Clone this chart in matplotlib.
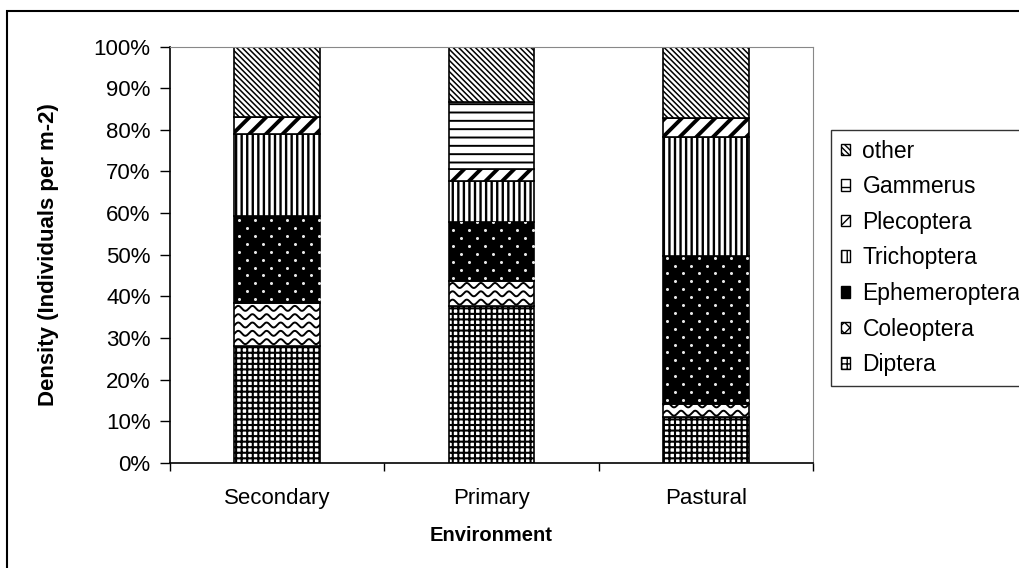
import numpy as np
import matplotlib
matplotlib.use("Agg")
import matplotlib.pyplot as plt
from matplotlib.patches import Patch, Rectangle

plt.rcParams['font.family'] = ['Liberation Sans', 'DejaVu Sans']

# values (percent of total density)
environments = ["Secondary", "Primary", "Pastural"]
taxa = ["Diptera", "Coleoptera", "Ephemeroptera", "Trichoptera",
        "Plecoptera", "Gammerus", "other"]
diptera = [28.1, 37.6, 10.9]
coleoptera = [10.3, 6.0, 3.3]
ephemeroptera = [20.8, 14.3, 35.4]
trichoptera = [19.7, 9.9, 28.6]
plecoptera = [4.3, 2.7, 4.7]
gammerus = [0.0, 16.3, 0.0]
other = [16.8, 13.2, 17.1]
series = [diptera, coleoptera, ephemeroptera, trichoptera, plecoptera, gammerus, other]

hatches = {"Diptera": "+++", "Coleoptera": None, "Ephemeroptera": None,
           "Trichoptera": "|||", "Plecoptera": "//", "Gammerus": "--",
           "other": "\\\\\\\\\\\\"}
hatch_lw = {"Diptera": 1.5, "Coleoptera": 1.0, "Ephemeroptera": 1.0,
            "Trichoptera": 1.7, "Plecoptera": 2.8, "Gammerus": 1.4,
            "other": 1.1}

FS = 16

fig = plt.figure(figsize=(10.2, 5.68), dpi=100)
ax = fig.add_axes([170 / 1020, 1 - 462.7 / 568, 643 / 1020, 416 / 568])

x = np.arange(len(environments))
width = 0.4
bottom = np.zeros(len(environments))

for name, vals in zip(taxa, series):
    vals = np.array(vals)
    with plt.rc_context({'hatch.linewidth': hatch_lw[name]}):
        if name == "Ephemeroptera":
            bars = ax.bar(x, vals, width, bottom=bottom, color='black',
                          edgecolor='black', linewidth=1.2)
            # sparse white dots, staggered rows
            for xi, b, v, rect in zip(x, bottom, vals, bars):
                if v <= 0:
                    continue
                ys = np.arange(b + 0.9, b + v, 1.9)
                for k, yy in enumerate(ys):
                    off = 0.0 if k % 2 == 0 else 0.0373
                    xs = np.arange(xi - width / 2 + 0.02 + off, xi + width / 2, 0.0746)
                    pts, = ax.plot(xs, np.full(len(xs), yy), 'o', color='#e8e8e8',
                                   markersize=2.2, markeredgewidth=0)
                    pts.set_clip_path(rect)
        elif name == "Coleoptera":
            bars = ax.bar(x, vals, width, bottom=bottom, color='white',
                          edgecolor='black', linewidth=1.2)
            # wavy texture clipped to each bar
            for xi, b, v, rect in zip(x, bottom, vals, bars):
                if v <= 0:
                    continue
                xs = np.linspace(xi - width / 2, xi + width / 2, 200)
                for y0 in np.arange(b - 1.0, b + v + 1.0, 2.0):
                    ys = y0 + 0.6 * np.sin((xs - xi) / 0.066 * 2 * np.pi)
                    ln, = ax.plot(xs, ys, color='black', lw=1.4)
                    ln.set_clip_path(rect)
        else:
            ax.bar(x, vals, width, bottom=bottom, color='white',
                   edgecolor='black', hatch=hatches[name], linewidth=1.2)
    bottom += vals

ax.set_xlim(-0.5, len(environments) - 0.5)
ax.set_ylim(0, 100)
ax.set_yticks(np.arange(0, 101, 10))
ax.set_yticklabels([f"{v}%" for v in range(0, 101, 10)], fontsize=FS)
ax.set_xticks(x)
ax.set_xticklabels(environments, fontsize=FS)
ax.tick_params(axis='x', which='major', length=0, pad=18.5)
ax.set_xticks(np.arange(-0.5, len(environments), 1), minor=True)
ax.tick_params(axis='x', which='minor', length=6, direction='out', width=1)
ax.tick_params(axis='y', length=7, direction='out', width=1, pad=7)

for s in ['top', 'right']:
    ax.spines[s].set_color('#888888')
for s in ['left', 'bottom']:
    ax.spines[s].set_color('black')
    ax.spines[s].set_linewidth(1.2)

ax.set_xlabel("Environment", fontsize=14.5, fontweight='bold', labelpad=12)
ax.set_ylabel("Density (Individuals per m-2)", fontsize=FS,
              fontweight='bold', labelpad=25)

# legend
handles = []
for name in reversed(taxa):
    if name == "Ephemeroptera":
        h = Patch(facecolor='black', edgecolor='black', label=name)
    elif name == "Coleoptera":
        h = Patch(facecolor='white', edgecolor='black', hatch='xxx', label=name)
    else:
        h = Patch(facecolor='white', edgecolor='black', hatch=hatches[name], label=name)
    handles.append(h)
leg = fig.legend(handles=handles, loc='upper left',
                 bbox_to_anchor=(831 / 1020, 1 - 130 / 568),
                 fontsize=16.5, frameon=True, fancybox=False,
                 handlelength=0.4, handleheight=0.4, handletextpad=0.55,
                 labelspacing=0.55, borderpad=0.42, borderaxespad=0)
leg.get_frame().set_edgecolor('black')
leg.get_frame().set_linewidth(1.0)

# outer chart border
fig.patches.append(Rectangle((7 / 1020, -0.1), 2, 0.1 + 1 - 11 / 568,
                             transform=fig.transFigure, fill=False,
                             edgecolor='black', linewidth=1.5))

fig.savefig("out.png", dpi=100, facecolor='white')
